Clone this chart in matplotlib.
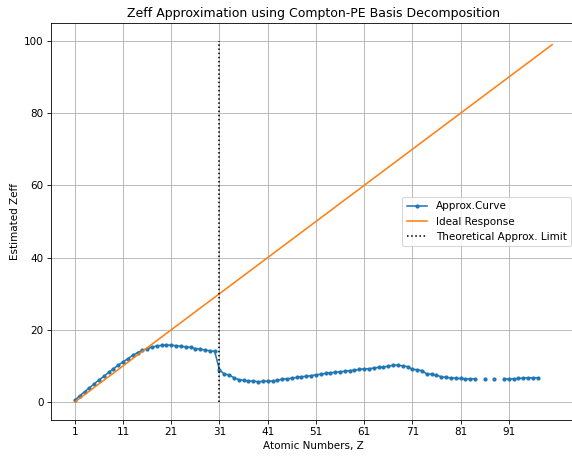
import matplotlib
matplotlib.use('Agg')
import matplotlib.pyplot as plt
import numpy as np

# atomic numbers and approximated Zeff (nan = no estimate)
z = list(range(1, 98))
zeff_approx = [
    0.5, 1.7, 2.8, 3.9, 5.0, 6.1, 7.1, 8.2, 9.2, 10.2,
    11.1, 12.0, 12.9, 13.7, 14.3, 14.8, 15.2, 15.5, 15.7, 15.8,
    15.7, 15.6, 15.4, 15.3, 15.1, 14.8, 14.6, 14.4, 14.2, 14.0,
    8.9, 7.7, 7.5, 6.7, 6.2, 6.0, 5.8, 5.8, 5.6, 5.7,
    5.8, 5.8, 6.0, 6.3, 6.4, 6.6, 6.8, 7.0, 7.1, 7.3,
    7.5, 7.7, 7.9, 8.1, 8.2, 8.4, 8.5, 8.7, 8.8, 9.0,
    9.2, 9.2, 9.4, 9.6, 9.7, 9.9, 10.2, 10.2, 10.0, 9.8,
    9.1, 8.9, 8.7, 7.7, 7.7, 7.4, 7.0, 6.8, 6.7, 6.6,
    6.5, 6.4, 6.4, 6.4, np.nan, 6.3, np.nan, 6.3, np.nan, 6.4,
    6.4, 6.4, 6.5, 6.6, 6.7, 6.7, 6.7,
]

# ideal response
z_ideal = list(range(1, 101))
zeff_ideal = list(range(0, 100))

limit_z = 31

fig = plt.figure(figsize=(572 / 75, 456 / 75), dpi=75)
# right edge of the axes runs a bit past the picture, as in the reference crop
ax = fig.add_axes([51 / 572, 1 - 420 / 456, 525 / 572, 397 / 456])

ax.plot(z, zeff_approx, '.-', label='Approx.Curve')
ax.plot(z_ideal, zeff_ideal, label='Ideal Response')
ax.plot([limit_z, limit_z], [0, 100], 'k:', label='Theoretical Approx. Limit')

ax.set_xticks(range(1, 100, 10))
ax.set_title('Zeff Approximation using Compton-PE Basis Decomposition')
ax.set_xlabel('Atomic Numbers, Z')
ax.set_ylabel('Estimated Zeff')
ax.grid()
ax.legend(loc='center right')

fig.savefig('out.png', dpi=75)
plt.close()
